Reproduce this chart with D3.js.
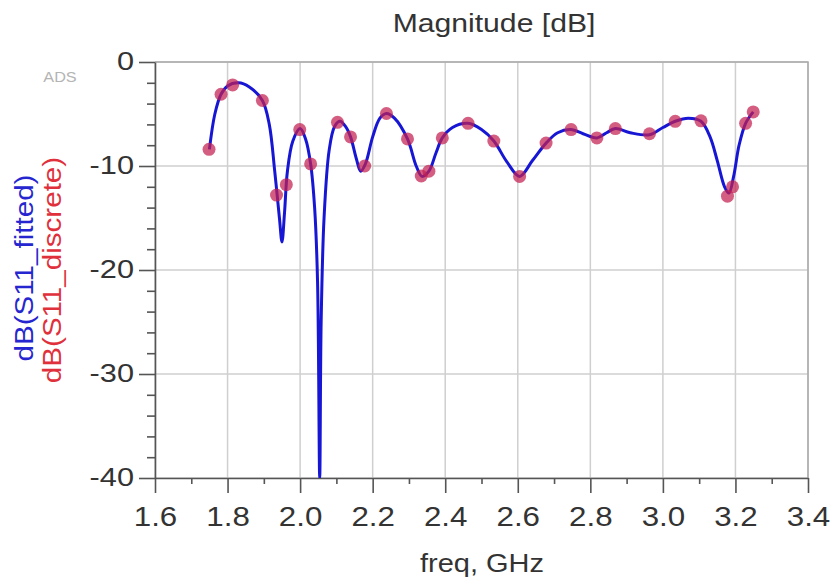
<!DOCTYPE html>
<html lang="en">
  <head>
    <meta charset="UTF-8" />
    <title>Magnitude [dB]</title>
    <style>
      body {
        margin: 0;
        background: #fff;
      }
      text {
        font-family: "Liberation Sans", Arial, sans-serif;
      }
      .grid line {
        stroke: #cfcfcf;
        stroke-width: 1.5px;
      }
      .axis path,
      .axis line {
        stroke: #555;
        stroke-width: 1.6px;
      }
      .axis text {
        fill: #333;
      }
    </style>
  </head>
  <body>
    <div id="chart"></div>
    <script src="https://cdn.jsdelivr.net/npm/d3@7"></script>
    <script>
      // discrete samples (red dots)
      let freqDiscrete = [
        1.749, 1.782, 1.814, 1.896, 1.935, 1.962, 1.999, 2.029, 2.103, 2.139,
        2.178, 2.238, 2.296, 2.334, 2.355, 2.392, 2.463, 2.534, 2.605, 2.678,
        2.747, 2.818, 2.869, 2.963, 3.034, 3.105, 3.178, 3.192, 3.228, 3.249
      ];
      let s11Discrete = [
        -8.4, -3.1, -2.2, -3.7, -12.8, -11.8, -6.5, -9.8, -5.8, -7.2,
        -10.0, -4.95, -7.4, -10.96, -10.5, -7.3, -5.9, -7.6, -11.0, -7.8,
        -6.5, -7.3, -6.4, -6.9, -5.7, -5.66, -12.9, -12.0, -5.9, -4.8
      ];

      // fitted response (blue line)
      let freqFitted = [
        1.75, 1.765, 1.782, 1.8, 1.83, 1.86, 1.896, 1.915, 1.93, 1.943,
        1.95, 1.957, 1.965, 1.98, 2.0, 2.015, 2.029, 2.04, 2.048, 2.054,
        2.058, 2.066, 2.08, 2.095, 2.11, 2.125, 2.139, 2.155, 2.167, 2.18,
        2.2, 2.22, 2.238, 2.26, 2.296, 2.32, 2.336, 2.355, 2.375, 2.392,
        2.42, 2.463, 2.5, 2.534, 2.57, 2.605, 2.64, 2.678, 2.71, 2.747,
        2.78, 2.818, 2.845, 2.869, 2.91, 2.963, 3.0, 3.034, 3.07, 3.105,
        3.13, 3.15, 3.17, 3.182, 3.195, 3.21, 3.228, 3.249
      ];
      let s11Fitted = [
        -8.4, -5.0, -3.1, -2.3, -2.0, -2.4, -3.7, -6.0, -10.5, -15.0,
        -17.3, -14.5, -10.5, -7.6, -6.4, -7.4, -9.8, -14.0, -21.0, -40,
        -25, -15, -8.5, -6.2, -5.7, -6.2, -7.2, -9.3, -10.5, -9.8,
        -7.2, -5.4, -4.95, -5.4, -7.4, -10.0, -11.0, -10.5, -8.7, -7.3,
        -6.3, -5.9, -6.5, -7.6, -9.6, -11.0, -9.5, -7.8, -6.8, -6.5,
        -6.9, -7.3, -6.8, -6.4, -6.8, -7.0, -6.3, -5.7, -5.4, -5.7,
        -7.2, -9.5, -12.0, -12.6, -11.0, -8.0, -5.9, -4.8
      ];

      let xTicks = [1.6, 1.8, 2.0, 2.2, 2.4, 2.6, 2.8, 3.0, 3.2, 3.4];
      let yTicks = [0, -10, -20, -30, -40];

      let width = 832,
        height = 584;
      let plotLeft = 155,
        plotRight = 808,
        plotTop = 62,
        plotBottom = 478;
      // ADS text is a bit wider than Arial
      let sx = 1.16;

      let svg = d3
        .select("#chart")
        .append("svg")
        .attr("width", width)
        .attr("height", height);

      let x = d3.scaleLinear().domain([1.6, 3.4]).range([plotLeft, plotRight]);
      let y = d3.scaleLinear().domain([-40, 0]).range([plotBottom, plotTop]);

      // grid
      let grid = svg.append("g").attr("class", "grid");
      grid
        .selectAll(".gx")
        .data(xTicks)
        .enter()
        .append("line")
        .attr("x1", function (d) {
          return x(d);
        })
        .attr("x2", function (d) {
          return x(d);
        })
        .attr("y1", plotTop)
        .attr("y2", plotBottom);
      grid
        .selectAll(".gy")
        .data(yTicks)
        .enter()
        .append("line")
        .attr("x1", plotLeft)
        .attr("x2", plotRight)
        .attr("y1", function (d) {
          return y(d);
        })
        .attr("y2", function (d) {
          return y(d);
        });

      // frame on top / right
      svg
        .append("path")
        .attr("d", "M" + plotLeft + "," + plotTop + "H" + plotRight + "V" + plotBottom)
        .attr("fill", "none")
        .attr("stroke", "#aaa")
        .attr("stroke-width", 1.5);

      // minor ticks
      svg
        .append("g")
        .attr("class", "axis")
        .attr("transform", "translate(0," + plotBottom + ")")
        .call(
          d3
            .axisBottom(x)
            .tickValues(d3.range(1.7, 3.4, 0.2))
            .tickSize(6)
            .tickFormat("")
        )
        .select(".domain")
        .remove();
      svg
        .append("g")
        .attr("class", "axis")
        .attr("transform", "translate(" + plotLeft + ",0)")
        .call(
          d3
            .axisLeft(y)
            .tickValues(d3.range(-38, 0, 2).filter(function (v) {
              return v % 10 !== 0;
            }))
            .tickSize(8)
            .tickFormat("")
        )
        .select(".domain")
        .remove();

      // major axes
      let xAxis = svg
        .append("g")
        .attr("class", "axis")
        .attr("transform", "translate(0," + plotBottom + ")")
        .call(
          d3
            .axisBottom(x)
            .tickValues(xTicks)
            .tickSize(15)
            .tickSizeOuter(0)
            .tickFormat(d3.format(".1f"))
        );
      xAxis
        .selectAll("text")
        .attr("y", 48)
        .attr("dy", 0)
        .attr("font-size", 27)
        .attr("transform", "scale(" + sx + ",1)");

      let yAxis = svg
        .append("g")
        .attr("class", "axis")
        .attr("transform", "translate(" + plotLeft + ",0)")
        .call(
          d3
            .axisLeft(y)
            .tickValues(yTicks)
            .tickSize(16)
            .tickSizeOuter(0)
            .tickFormat(function (d) {
              return String(d);
            })
        );
      yAxis
        .selectAll("text")
        .attr("x", -21 / sx)
        .attr("dy", "0.3em")
        .attr("font-size", 26.5)
        .attr("transform", "scale(" + sx + ",1)");

      // curve + points, clipped to the plot
      svg
        .append("clipPath")
        .attr("id", "plot")
        .append("rect")
        .attr("x", plotLeft)
        .attr("y", plotTop - 2)
        .attr("width", plotRight - plotLeft)
        .attr("height", plotBottom - plotTop + 2);

      let fitted = freqFitted.map(function (f, i) {
        return [f, s11Fitted[i]];
      });
      let line = d3
        .line()
        .x(function (d) {
          return x(d[0]);
        })
        .y(function (d) {
          return y(d[1]);
        })
        .curve(d3.curveCatmullRom.alpha(0.5));

      svg
        .append("path")
        .datum(fitted)
        .attr("clip-path", "url(#plot)")
        .attr("d", line)
        .attr("fill", "none")
        .attr("stroke", "#1616d4")
        .attr("stroke-width", 3);

      svg
        .append("g")
        .selectAll("circle")
        .data(freqDiscrete)
        .enter()
        .append("circle")
        .attr("cx", function (d) {
          return x(d);
        })
        .attr("cy", function (d, i) {
          return y(s11Discrete[i]);
        })
        .attr("r", 6.5)
        .attr("fill", "#c42050")
        .attr("fill-opacity", 0.72);

      // labels
      function label(tx, ty, size, color, str, rot) {
        return svg
          .append("text")
          .attr(
            "transform",
            "translate(" + tx + "," + ty + ")" +
              (rot ? " rotate(" + rot + ")" : "") +
              " scale(" + sx + ",1)"
          )
          .attr("text-anchor", "middle")
          .attr("font-size", size)
          .attr("fill", color)
          .text(str);
      }

      label(494, 32, 26, "#333", "Magnitude [dB]");
      label(482, 572, 25, "#333", "freq, GHz");
      label(60, 82, 14, "#b4b4b4", "ADS");
      label(33, 268, 25.5, "#2626d0", "dB(S11_fitted)", -90);
      label(61, 270, 25.5, "#e0303c", "dB(S11_discrete)", -90);
    </script>
  </body>
</html>
